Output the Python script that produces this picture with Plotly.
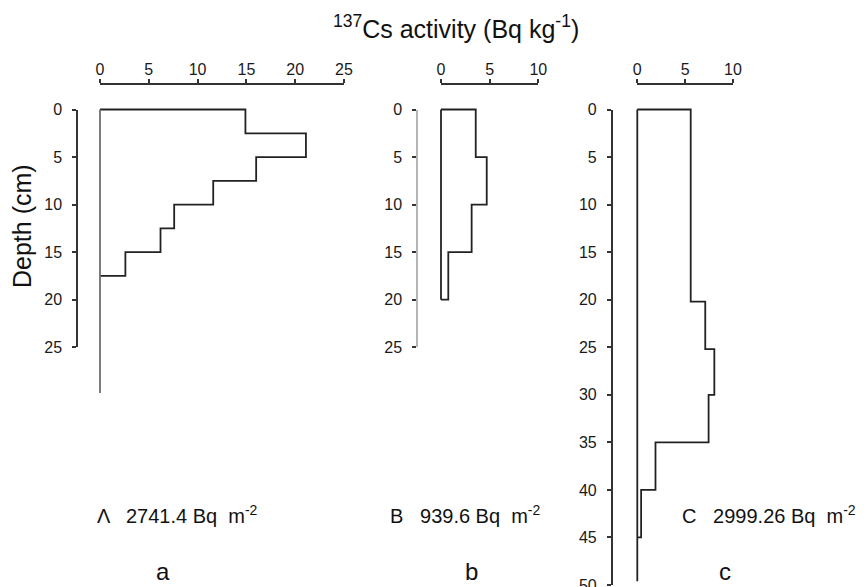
import plotly.graph_objects as go

# ---------------- data ----------------
# Core A
a_top = [0, 2.5, 5, 7.5, 10, 12.5, 15]
a_bottom = [2.5, 5, 7.5, 10, 12.5, 15, 17.5]
a_activity = [14.9, 21.1, 16.0, 11.6, 7.6, 6.2, 2.6]
a_core_depth = 29.8

# Core B
b_top = [0, 5, 10, 15]
b_bottom = [5, 10, 15, 20]
b_activity = [3.57, 4.7, 3.15, 0.75]
b_core_depth = 20

# Core C
c_top = [0, 20.2, 25.2, 30, 35, 40]
c_bottom = [20.2, 25.2, 30, 35, 40, 45]
c_activity = [5.58, 7.1, 8.05, 7.45, 1.9, 0.4]
c_core_depth = 49.6

a_xticks = [0, 5, 10, 15, 20, 25]
bc_xticks = [0, 5, 10]
ab_yticks = [0, 5, 10, 15, 20, 25]
c_yticks = [0, 5, 10, 15, 20, 25, 30, 35, 40, 45, 50]

inventory_labels = ["Λ   2741.4 Bq  m<sup>-2</sup>",
                    "B   939.6 Bq  m<sup>-2</sup>",
                    "C   2999.26 Bq  m<sup>-2</sup>"]
panel_letters = ["a", "b", "c"]

# ---------------- helpers ----------------
W, H = 867, 587
OFF = 8  # page body margin of the html page


def px(x):
    return (x - OFF) / W


def py(y):
    return 1 - (y - OFF) / H


def step_path(tops, bottoms, vals):
    xs = [0]
    ys = [tops[0]]
    for t, b, v in zip(tops, bottoms, vals):
        xs += [v, v]
        ys += [t, b]
    xs.append(0)
    ys.append(bottoms[-1])
    return xs, ys


DARK = "#222222"
FONT = "Liberation Sans, Arial, sans-serif"
tickfont = dict(family=FONT, size=16, color="#1a1a1a")

Y0_PX, Y50_PX = 109.5, 585.0          # pixel rows of depth 0 and 50
SY = (Y50_PX - Y0_PX) / 50.0

panels = [
    dict(tops=a_top, bottoms=a_bottom, vals=a_activity, core=a_core_depth,
         zero_color="#6e6e6e", x0=100, x1=344, xmax=25, xticks=a_xticks,
         yline_x=77, ymax=25, yticks=ab_yticks, ylinecolor="#333333"),
    dict(tops=b_top, bottoms=b_bottom, vals=b_activity, core=b_core_depth,
         zero_color=DARK, x0=441, x1=538.3, xmax=10, xticks=bc_xticks,
         yline_x=417, ymax=25, yticks=ab_yticks, ylinecolor="#b5b5b5"),
    dict(tops=c_top, bottoms=c_bottom, vals=c_activity, core=c_core_depth,
         zero_color=DARK, x0=637.3, x1=733, xmax=10, xticks=bc_xticks,
         yline_x=611.7, ymax=50, yticks=c_yticks, ylinecolor="#333333"),
]

fig = go.Figure()
layout_axes = {}
PAD = 1.5

for i, p in enumerate(panels):
    dn = i + 1          # data axes 1..3
    vn = i + 4          # display axes 4..6
    dx = "x" if dn == 1 else f"x{dn}"
    dy = "y" if dn == 1 else f"y{dn}"
    vx, vy = f"x{vn}", f"y{vn}"
    sx = (p["x1"] - p["x0"]) / p["xmax"]

    xs, ys = step_path(p["tops"], p["bottoms"], p["vals"])
    fig.add_trace(go.Scatter(x=xs, y=ys, mode="lines", xaxis=dx, yaxis=dy,
                             line=dict(color=DARK, width=1.8), hoverinfo="skip",
                             showlegend=False))
    fig.add_trace(go.Scatter(x=[0, 0], y=[0, p["core"]], mode="lines", xaxis=dx, yaxis=dy,
                             line=dict(color=p["zero_color"], width=1.8), hoverinfo="skip",
                             showlegend=False))
    fig.add_trace(go.Scatter(x=[None], y=[None], xaxis=vx, yaxis=vy, showlegend=False,
                             hoverinfo="skip"))

    # hidden data axes (padded so lines on the edges are not clipped)
    layout_axes["xaxis" if dn == 1 else f"xaxis{dn}"] = dict(
        domain=[px(p["x0"] - PAD * sx), px(p["x1"] + PAD * sx)],
        range=[-PAD, p["xmax"] + PAD], visible=False, anchor=dy,
        showgrid=False, zeroline=False, automargin=False)
    layout_axes["yaxis" if dn == 1 else f"yaxis{dn}"] = dict(
        domain=[py(Y50_PX), py(Y0_PX - PAD * SY)],
        range=[50, -PAD], visible=False, anchor=dx,
        showgrid=False, zeroline=False, automargin=False)

    # display axes
    layout_axes[f"xaxis{vn}"] = dict(
        domain=[px(p["x0"]), px(p["x1"])], range=[0, p["xmax"]], side="top",
        anchor="free", position=py(84), showline=True, linecolor="#333333",
        linewidth=1.5, ticks="outside", ticklen=4, tickwidth=1.5, tickcolor="#333333",
        tickvals=p["xticks"], showgrid=False, zeroline=False, tickfont=tickfont,
        ticklabelstandoff=-2, automargin=False)
    layout_axes[f"yaxis{vn}"] = dict(
        domain=[py(Y0_PX + p["ymax"] * SY), py(Y0_PX)], range=[p["ymax"], 0],
        anchor="free", position=px(p["yline_x"]), side="left", showline=True,
        linecolor=p["ylinecolor"], linewidth=1.5, ticks="outside", ticklen=4,
        tickwidth=1.5, tickcolor="#333333", tickvals=p["yticks"], showgrid=False,
        zeroline=False, tickfont=tickfont, ticklabelstandoff=7, automargin=False)

fig.update_layout(
    template="none",
    width=W, height=H,
    margin=dict(l=0, r=0, t=0, b=0, pad=0, autoexpand=False),
    paper_bgcolor="white", plot_bgcolor="rgba(0,0,0,0)",
    showlegend=False,
    **layout_axes,
)

ann = []
ann.append(dict(text="<sup>137</sup>Cs activity (Bq kg<sup>-1</sup>)", x=px(456), y=py(27),
                xref="paper", yref="paper", showarrow=False, xanchor="center", yanchor="middle",
                font=dict(family=FONT, size=25, color="#111111")))
ann.append(dict(text="Depth (cm)", x=px(22), y=py(226), textangle=-90,
                xref="paper", yref="paper", showarrow=False, xanchor="center", yanchor="middle",
                font=dict(family=FONT, size=25, color="#111111")))
inv_x = [95, 388, 680]
for lab, xl in zip(inventory_labels, inv_x):
    ann.append(dict(text=lab, x=px(xl), y=py(514), xref="paper", yref="paper",
                    showarrow=False, xanchor="left", yanchor="middle",
                    font=dict(family=FONT, size=20, color="#111111")))
let_x = [163, 472, 725]
for lt, xl in zip(panel_letters, let_x):
    ann.append(dict(text=lt, x=px(xl), y=py(571), xref="paper", yref="paper",
                    showarrow=False, xanchor="center", yanchor="middle",
                    font=dict(family=FONT, size=24, color="#111111")))
fig.update_layout(annotations=ann)

fig.write_html("out.html")
